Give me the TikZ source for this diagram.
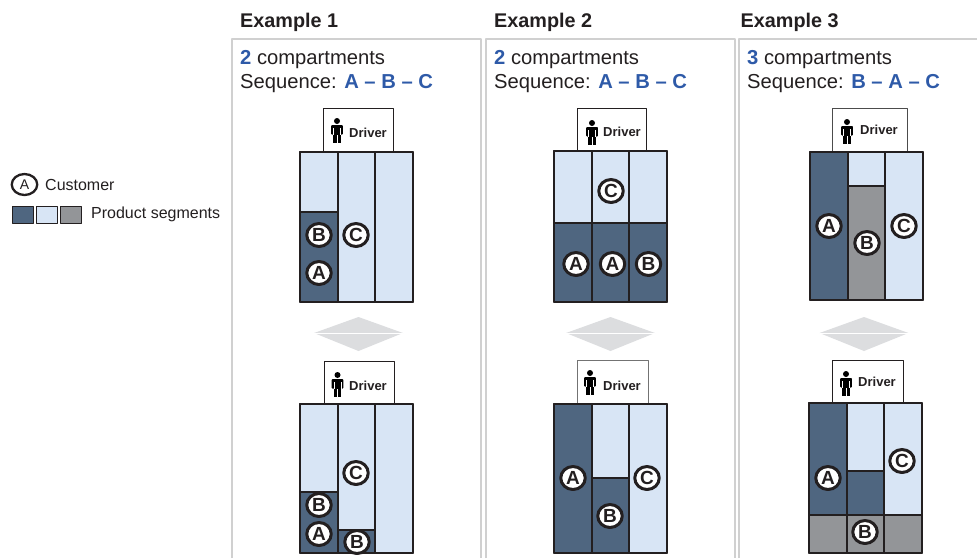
\documentclass[tikz,border=0pt]{standalone}
\usepackage{fontspec}
\setmainfont{Liberation Sans}
\usetikzlibrary{shapes.geometric}
\definecolor{darkseg}{HTML}{4F6680}
\definecolor{lightseg}{HTML}{D8E5F5}
\definecolor{greyseg}{HTML}{939598}
\definecolor{inkline}{HTML}{231F20}
\definecolor{seqblue}{HTML}{2E5AA8}
\definecolor{panelline}{HTML}{D0D0D0}
\definecolor{arrowgrey}{HTML}{DCDDDF}

\begin{document}
\begin{tikzpicture}[x=1pt,y=-1pt,line join=round]
    \tikzstyle{panel}=[draw=panelline,line width=1.3pt]
    \tikzstyle{segment}=[draw=inkline,line width=1.5pt]
    \tikzstyle{binframe}=[draw=inkline,line width=1.8pt]
    \tikzstyle{driverbox}=[draw=inkline,fill=white,line width=0.8pt]
    \tikzstyle{customer}=[ellipse,draw=inkline,fill=white,line width=3pt,minimum width=24.5pt,minimum height=23pt,inner sep=-1.5pt,font=\fontsize{19}{19}\selectfont\bfseries,text=inkline]
    \tikzstyle{heading}=[anchor=base west,font=\fontsize{19.8}{20}\selectfont\bfseries,text=inkline]
    \tikzstyle{info}=[anchor=base west,font=\fontsize{20.2}{20}\selectfont,text=inkline]
    \tikzstyle{legend}=[anchor=west,font=\fontsize{16}{16}\selectfont,text=inkline]
    \tikzstyle{drivertext}=[font=\fontsize{13}{13}\selectfont\bfseries,text=inkline]
    \useasboundingbox (0,0) rectangle (977,558);

    % Panels
    \draw[panel] (232,558) |- (481,39) -- (481,558);
    \draw[panel] (486,558) |- (735,39) -- (735,558);
    \draw[panel] (739,558) |- (977,39);

    % Headings and the two lines of each panel
    \foreach \name/\x/\hx/\num/\seq in {1/240/240/2/A -- B -- C,2/494/494/2/A -- B -- C,3/747/740.5/3/B -- A -- C} {
        \node[heading,inner sep=0pt] (head-\name) at (\hx,27) {Example \name};
        \node[info,inner sep=0pt] (comp-\name) at (\x,64) {\textcolor{seqblue}{\textbf{\num}} compartments};
        \node[info,inner sep=0pt] (seq-\name) at (\x,88) {Sequence: \textcolor{seqblue}{\textbf{\seq}}};
    }

    % Swap arrows between the two layouts
    \foreach \name/\x in {1/358.5,2/610.5,3/864} {
        \fill[arrowgrey] (\x-44.5,333) -- (\x,317) -- (\x+44.5,333) -- (\x,351) -- cycle;
        \draw[white,line width=0.7pt] (\x-44.5,333) -- (\x+44.5,333);
    }

    % Driver cabins
    \foreach \name/\xa/\ya/\xb/\yb/\px/\py/\tx/\ty/\col in {
        1/323/108/393/152/337/118/368/133/inkline,
        2/324/361/394/404/337.5/372/368/386/inkline,
        3/577/108/646/151/592/120/622/132/inkline,
        4/577/360/648/403/590/370/622/386/black!55,
        5/832/108/907/152/847/119/879/130/black!70,
        6/832/360/903/403/846/371/877/382/inkline} {
        \draw[driverbox,draw=\col] (\xa,\yb) -- (\xa,\ya) -- (\xb,\ya) -- (\xb,\yb);
        \node[drivertext] (driver-\name) at (\tx,\ty) {Driver};
        % little figure of the driver
        \fill[black] (\px,\py+3) circle (3);
        \fill[black,rounded corners=0.8pt] (\px-5.8,\py+7) rectangle (\px+5.8,\py+16.5);
        \fill[black] (\px-3.6,\py+7) rectangle (\px+3.6,\py+25);
        \fill[white] (\px-4,\py+10) rectangle (\px-3.4,\py+17);
        \fill[white] (\px+3.4,\py+10) rectangle (\px+4,\py+17);
        \fill[white] (\px-0.3,\py+16.5) rectangle (\px+0.3,\py+25);
    }

    % Product segments: left, top, right, bottom, colour
    \foreach \xa/\ya/\xb/\yb/\col in {
        300/152/338/212/lightseg, 300/212/338/302/darkseg, 338/152/375/302/lightseg, 375/152/413/302/lightseg,
        300/404/338/492/lightseg, 300/492/338/553/darkseg, 338/404/375/530/lightseg, 338/530/375/553/darkseg, 375/404/413/553/lightseg,
        554/151/592/223/lightseg, 592/151/629/223/lightseg, 629/151/667/223/lightseg,
        554/223/592/302/darkseg, 592/223/629/302/darkseg, 629/223/667/302/darkseg,
        554/404/592/553/darkseg, 592/404/629/478/lightseg, 592/478/629/553/darkseg, 629/404/667/553/lightseg,
        810/152/848/300/darkseg, 848/152/885/186/lightseg, 848/186/885/300/greyseg, 885/152/923/300/lightseg,
        809/403/847/515/darkseg, 847/403/884/471/lightseg, 847/471/884/515/darkseg, 884/403/922/515/lightseg,
        809/515/847/553/greyseg, 847/515/884/553/greyseg, 884/515/922/553/greyseg}
        \draw[segment,fill=\col] (\xa,\ya) rectangle (\xb,\yb);

    % Outer frames
    \draw[binframe] (300,152) rectangle (413,302);
    \draw[binframe] (300,404) rectangle (413,553);
    \draw[binframe,line width=2.8pt] (554,151) rectangle (667,302);
    \draw[binframe] (554,404) rectangle (667,553);
    \draw[binframe] (810,152) rectangle (923,300);
    \draw[binframe] (809,403) rectangle (922,553);

    % Customers
    \foreach \name/\x/\y/\letter in {
        a1/319/235/B, a2/356/235/C, a3/319/273/A,
        b1/319/505/B, b2/319/534/A, b3/356/473/C, b4/357/542/B,
        c1/611/191/C, c2/576/264/A, c3/612.5/264/A, c4/648.5/264/B,
        d1/573/478/A, d2/610/516/B, d3/647/478/C,
        e1/829/226/A, e2/867/243/B, e3/904/226/C,
        f1/828/478/A, f2/902/461/C, f3/865/532/B}
        \node[customer,text height=13.5pt,text depth=0pt] (cust-\name) at (\x,\y) {\letter};

    % Legend
    \node[customer,line width=2.3pt,minimum width=25.5pt,minimum height=21pt,inner sep=0pt,font=\fontsize{14}{14}\selectfont] (key-A) at (24.5,184.5) {A};
    \node[legend,inner sep=0pt] (key-text) at (45,184.5) {Customer};
    \foreach \xa/\xb/\col in {12/33/darkseg,36/57/lightseg,60/81/greyseg}
        \draw[segment,line width=1pt,fill=\col] (\xa,206.5) rectangle (\xb,223);
    \node[legend,inner sep=0pt] (seg-text) at (91,214.5) {Product segments};
\end{tikzpicture}
\end{document}
